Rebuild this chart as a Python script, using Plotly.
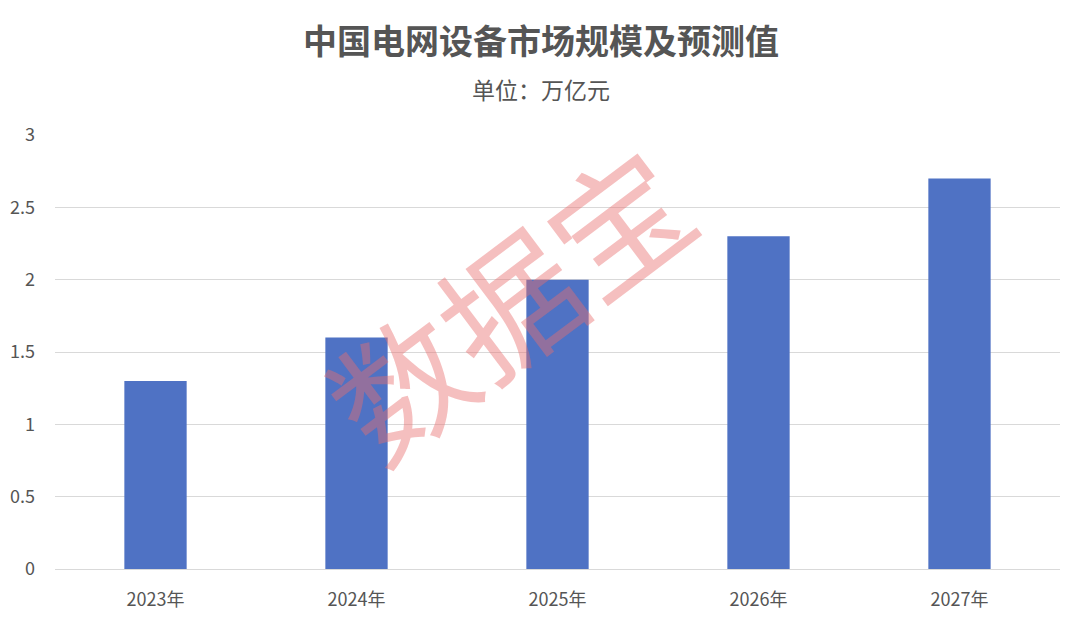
import plotly.graph_objects as go

categories = ["2023年", "2024年", "2025年", "2026年", "2027年"]
values = [1.3, 1.6, 2.0, 2.3, 2.7]
y_ticks = [0, 0.5, 1, 1.5, 2, 2.5, 3]
y_tick_labels = ["0", "0.5", "1", "1.5", "2", "2.5", "3"]

FONT = "Noto Sans CJK SC"

fig = go.Figure(go.Bar(
    x=categories, y=values,
    marker=dict(color="#4f72c4", line=dict(width=0)),
))

fig.update_layout(
    width=1080, height=621,
    margin=dict(l=47, r=28, t=127, b=60),
    paper_bgcolor="white", plot_bgcolor="white",
    bargap=0.69,
    showlegend=False,
    font=dict(family=FONT, color="#555555", size=18),
    xaxis=dict(showgrid=False, showline=True, linecolor="#d9d9d9", linewidth=1,
               tickfont=dict(size=18, color="#555555"), ticks="", ticklabelstandoff=14,
               automargin=False),
    yaxis=dict(range=[0, 3], tickvals=y_ticks, ticktext=y_tick_labels,
               showgrid=True, gridcolor="#d9d9d9", gridwidth=1, zeroline=False,
               showline=False, ticks="", ticklabelstandoff=19, automargin=False,
               tickfont=dict(size=18, color="#555555")),
    annotations=[
        dict(text="<b>中国电网设备市场规模及预测值</b>", xref="paper", yref="paper",
             x=0.5, xanchor="center", y=1, yshift=96, yanchor="middle", xshift=-17,
             showarrow=False, font=dict(size=34, color="#555555", family=FONT)),
        dict(text="单位：万亿元", xref="paper", yref="paper",
             x=0.5, xanchor="center", y=1, yshift=46, yanchor="middle", xshift=-17,
             showarrow=False, font=dict(size=23, color="#555555", family=FONT)),
        dict(text="数据宝", xref="paper", yref="paper",
             x=(506 - 55) / 1005, y=(569 - 299) / 434, xanchor="center", yanchor="middle",
             textangle=-37, showarrow=False,
             font=dict(size=136, color="rgba(232,110,110,0.44)", family=FONT)),
    ],
)

fig.write_html("out.html")
